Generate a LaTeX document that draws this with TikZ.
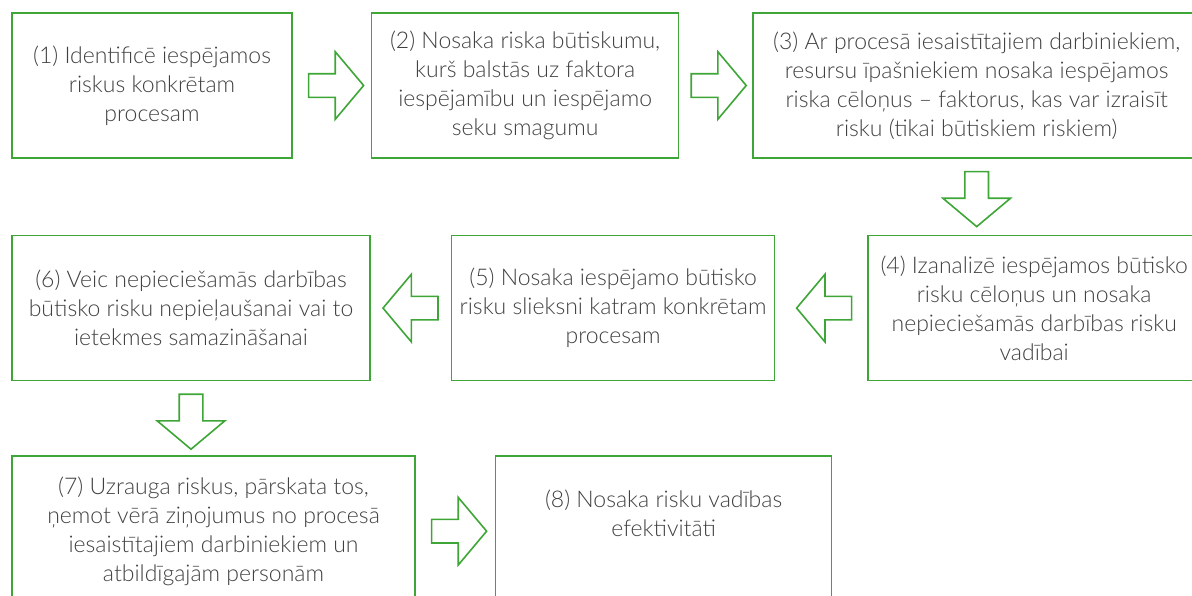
\documentclass[tikz,border=0pt]{standalone}
\usepackage{fontspec}
\setmainfont{Lato Light}
\usepackage{tikz}
\usetikzlibrary{positioning, shapes.arrows}
\definecolor{boxgreen}{RGB}{62,166,54}
\definecolor{textgray}{RGB}{64,64,64}
\tikzstyle{riskbox} = [
    rectangle,
    draw = boxgreen,
    line width = 1.6pt,
    text = textgray,
    align = center,
    font = \fontsize{23}{29}\selectfont,
    inner sep = 0pt,
    minimum height = 145pt
]
\tikzstyle{blockarrow} = [
    single arrow,
    draw = boxgreen,
    line width = 1.6pt,
    inner xsep = 0pt,
    inner ysep = 11pt,
    minimum height = 55pt,
    single arrow head extend = 22pt,
    single arrow tip angle = 100
]
\begin{document}
\begin{tikzpicture}[x=1pt, y=-1pt]

                \useasboundingbox (0,0) rectangle (1192,595);
                \clip (0,0) rectangle (1192,595);

                % row 1
                \node [riskbox, minimum width = 280pt] (b1) at (152,85.5) {(1) Identificē iespējamos\\riskus konkrētam\\procesam};
                \node [riskbox, minimum width = 307pt, right = 78pt of b1] (b2) {(2) Nosaka riska būtiskumu,\\kurš balstās uz faktora\\iespējamību un iespējamo\\seku smagumu};
                \node [riskbox, minimum width = 447pt, right = 73pt of b2] (b3) {(3) Ar procesā iesaistītajiem darbiniekiem,\\resursu īpašniekiem nosaka iespējamos\\riska cēloņus – faktorus, kas var izraisīt\\risku (tikai būtiskiem riskiem)};
                \node [blockarrow, right = 15pt of b1] (a12) {};
                \node [blockarrow, right = 11pt of b2] (a23) {};
                \node [blockarrow, rotate = -90, below = 12pt of b3, anchor = tail] (a34) {};

                % row 2
                \node [riskbox, minimum width = 332pt, below = 76pt of b3.south east, anchor = north east] (b4) {(4) Izanalizē iespējamos būtisko\\risku cēloņus un nosaka\\nepieciešamās darbības risku\\vadībai};
                \node [riskbox, minimum width = 323pt, left = 92pt of b4] (b5) {(5) Nosaka iespējamo būtisko\\risku slieksni katram konkrētam\\procesam};
                \node [riskbox, minimum width = 358pt, left = 80pt of b5] (b6) {(6) Veic nepieciešamās darbības\\būtisko risku nepieļaušanai vai to\\ietekmes samazināšanai};
                \node [blockarrow, rotate = 180, left = 15pt of b4, anchor = tail] (a45) {};
                \node [blockarrow, rotate = 180, left = 12pt of b5, anchor = tail] (a56) {};
                \node [blockarrow, rotate = -90, below = 12pt of b6, anchor = tail] (a67) {};

                % row 3
                \node [riskbox, minimum width = 403pt, minimum height = 150pt, below = 74pt of b6.south west, anchor = north west] (b7) {(7) Uzrauga riskus, pārskata tos,\\ņemot vērā ziņojumus no procesā\\iesaistītajiem darbiniekiem un\\atbildīgajām personām};
                \node [riskbox, minimum width = 336pt, minimum height = 150pt, text depth = 35pt, right = 79pt of b7] (b8) {(8) Nosaka risku vadības\\efektivitāti};
                \node [blockarrow, right = 15pt of b7] (a78) {};

            \end{tikzpicture}
\end{document}
